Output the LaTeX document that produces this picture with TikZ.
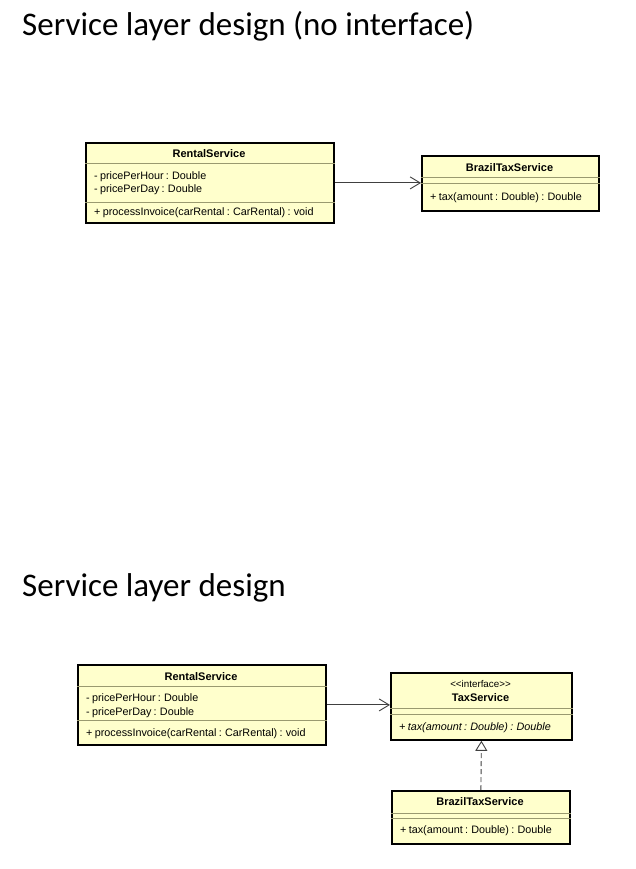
\documentclass[tikz,border=0pt]{standalone}
\usepackage{fontspec}
\setmainfont{Carlito}
\newfontfamily\umlfont[WordSpace=0.75]{Liberation Sans}
\usetikzlibrary{arrows.meta,calc}

\definecolor{classfill}{HTML}{FFFFCC}
\definecolor{sepline}{HTML}{9A9A70}
\definecolor{linkgray}{HTML}{404040}

\tikzset{
  heading/.style={anchor=base west, inner sep=0, font=\fontsize{33}{36}\selectfont, text=black},
  classbox/.style={draw=black, line width=1.8pt, fill=classfill, rectangle, anchor=north west, inner sep=0},
  sep/.style={draw=sepline, line width=1pt},
  nametext/.style={anchor=base, inner sep=0, font=\umlfont\bfseries\fontsize{11}{12}\selectfont},
  stereo/.style={anchor=base, inner sep=0, font=\umlfont\fontsize{9.8}{11}\selectfont},
  membertext/.style={anchor=base west, inner sep=0, font=\umlfont\fontsize{10.8}{12}\selectfont},
  assoc/.style={draw=linkgray, line width=0.9pt, -{Straight Barb[length=10pt,width=12pt,line width=0.9pt]}},
  realize/.style={draw=linkgray, line width=0.9pt, dash pattern=on 5pt off 3pt,
    -{Triangle[open,length=10pt,width=12pt,line width=0.9pt,fill=white]}},
}

\begin{document}
\begin{tikzpicture}[x=1pt,y=-1pt]
\useasboundingbox[fill=white] (0,0) rectangle (636,869);

% ---------- first design: direct dependency ----------
\node[heading] (title1) at (22,36) {Service layer design (no interface)};

\node[classbox, minimum width=248pt, minimum height=80pt] (rs1) at (85,142) {};
\draw[sep] ($(rs1.north west)+(0,22)$) -- ($(rs1.north east)+(0,22)$);
\draw[sep] ($(rs1.north west)+(0,60)$) -- ($(rs1.north east)+(0,60)$);
\node[nametext] (rs1name) at (209,158) {RentalService};
\node[membertext] (rs1a1) at (94,179.5) {- pricePerHour : Double};
\node[membertext] (rs1a2) at (94,193) {- pricePerDay : Double};
\node[membertext] (rs1m1) at (94,215.5) {+ processInvoice(carRental : CarRental) : void};

\node[classbox, minimum width=177pt, minimum height=55pt] (bt1) at (421,155) {};
\draw[sep] ($(bt1.north west)+(0,23)$) -- ($(bt1.north east)+(0,23)$);
\draw[sep] ($(bt1.north west)+(0,28)$) -- ($(bt1.north east)+(0,28)$);
\node[nametext] (bt1name) at (509.5,171.5) {BrazilTaxService};
\node[membertext] (bt1m1) at (430,200.5) {+ tax(amount : Double) : Double};

\draw[assoc] (rs1.east) -- (rs1.east -| bt1.west);

% ---------- second design: through an interface ----------
\node[heading] (title2) at (22,596) {Service layer design};

\node[classbox, minimum width=248pt, minimum height=80pt] (rs2) at (77,664) {};
\draw[sep] ($(rs2.north west)+(0,22)$) -- ($(rs2.north east)+(0,22)$);
\draw[sep] ($(rs2.north west)+(0,56)$) -- ($(rs2.north east)+(0,56)$);
\node[nametext] (rs2name) at (201,680.5) {RentalService};
\node[membertext] (rs2a1) at (86,701.5) {- pricePerHour : Double};
\node[membertext] (rs2a2) at (86,715.5) {- pricePerDay : Double};
\node[membertext] (rs2m1) at (86,736.5) {+ processInvoice(carRental : CarRental) : void};

\node[classbox, minimum width=181pt, minimum height=67pt] (ts) at (390,672) {};
\draw[sep] ($(ts.north west)+(0,36)$) -- ($(ts.north east)+(0,36)$);
\draw[sep] ($(ts.north west)+(0,42)$) -- ($(ts.north east)+(0,42)$);
\node[stereo] (tsstereo) at (480.5,687) {<{}<interface>{}>};
\node[nametext] (tsname) at (480.5,701.5) {TaxService};
\node[membertext, font=\umlfont\itshape\fontsize{10.8}{12}\selectfont] (tsm1) at (399,730.5) {+ tax(amount : Double) : Double};

\node[classbox, minimum width=178pt, minimum height=53pt] (bt2) at (391,790) {};
\draw[sep] ($(bt2.north west)+(0,23)$) -- ($(bt2.north east)+(0,23)$);
\draw[sep] ($(bt2.north west)+(0,28)$) -- ($(bt2.north east)+(0,28)$);
\node[nametext] (bt2name) at (480,805.5) {BrazilTaxService};
\node[membertext] (bt2m1) at (400,833.5) {+ tax(amount : Double) : Double};

\draw[assoc] (rs2.east) -- (rs2.east -| ts.west);
\draw[realize] (bt2.north) -- (ts.south);

\end{tikzpicture}
\end{document}
